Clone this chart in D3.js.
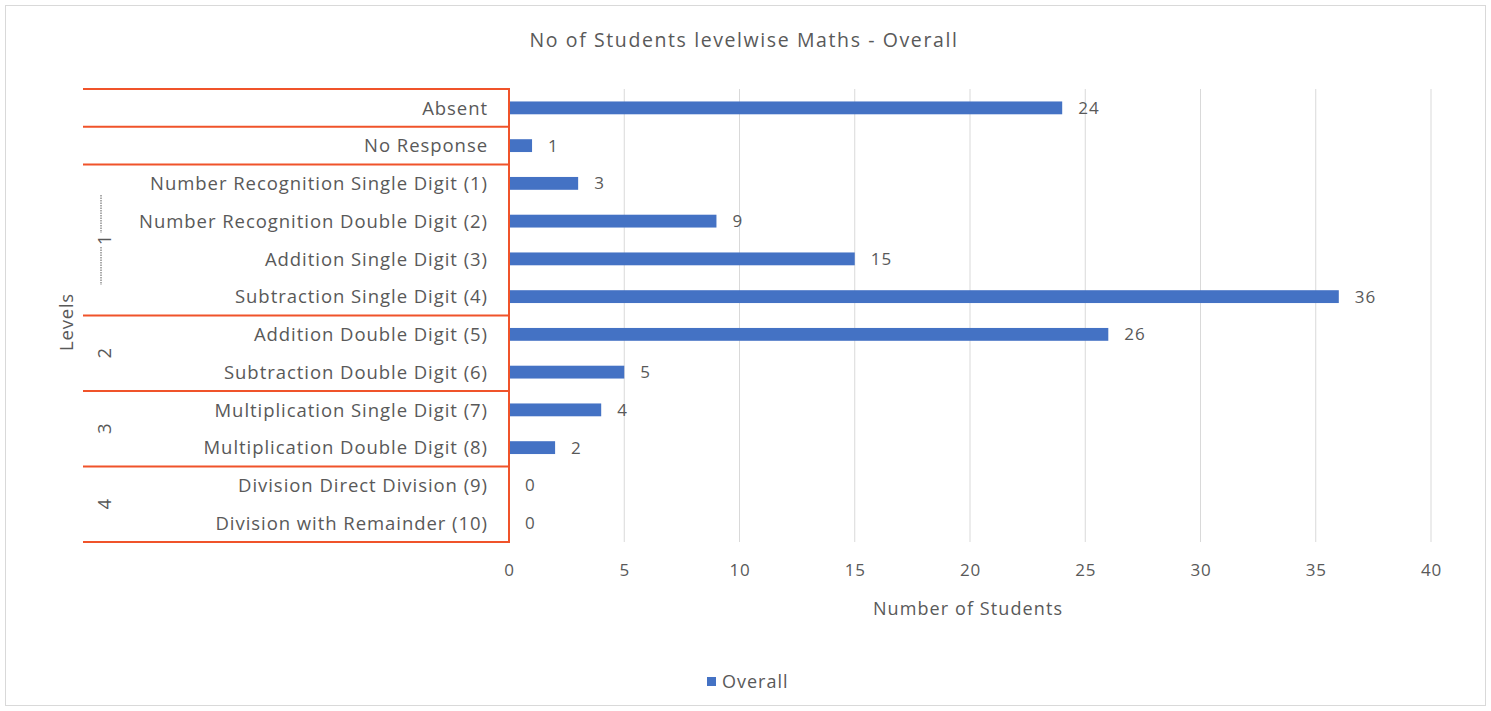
<!DOCTYPE html>
<html><head><meta charset="utf-8">
<script src="https://cdn.jsdelivr.net/npm/d3@7"></script>
<style>body{margin:0;background:#fff}svg{display:block}text{font-family:"Open Sans",sans-serif;fill:#595959}</style>
</head><body><svg id="c" width="1491" height="711"></svg>
<script>
const categories = ["Absent","No Response","Number Recognition Single Digit (1)","Number Recognition Double Digit (2)","Addition Single Digit (3)","Subtraction Single Digit (4)","Addition Double Digit (5)","Subtraction Double Digit (6)","Multiplication Single Digit (7)","Multiplication Double Digit (8)","Division Direct Division (9)","Division with Remainder (10)"];
const values = [24,1,3,9,15,36,26,5,4,2,0,0];
const xTicks = [0,5,10,15,20,25,30,35,40];
const levelGroups = [
  {label:"", start:0, end:0},
  {label:"", start:1, end:1},
  {label:"1", start:2, end:5},
  {label:"2", start:6, end:7},
  {label:"3", start:8, end:9},
  {label:"4", start:10, end:11}
];
const title = "No of Students levelwise Maths - Overall";
const seriesName = "Overall";

const svg = d3.select("#c");
svg.append("rect").attr("x",5.5).attr("y",5.5).attr("width",1480).attr("height",700).attr("fill","#fff").attr("stroke","#d9d9d9");

const x = d3.scaleLinear().domain([0,40]).range([509,1431]);
const y = d3.scaleBand().domain(categories).range([89,542]).paddingInner(0.66).paddingOuter(0.33);
const step = y.step();

// gridlines
svg.append("g").selectAll("line").data(xTicks.filter(d=>d>0)).join("line")
  .attr("x1",d=>x(d)).attr("x2",d=>x(d)).attr("y1",89).attr("y2",542)
  .attr("stroke","#d9d9d9").attr("stroke-width",1);

// x axis labels
const xa = svg.append("g").attr("transform","translate(0,542)")
  .call(d3.axisBottom(x).tickValues(xTicks).tickSize(0).tickPadding(22));
xa.select(".domain").remove();
xa.selectAll("text").attr("font-size",17).attr("letter-spacing",0.8).attr("fill","#595959").style("font-family","Open Sans");

// bars
svg.append("g").selectAll("rect").data(values).join("rect")
  .attr("x",x(0)).attr("y",(d,i)=>y(categories[i])).attr("height",y.bandwidth())
  .attr("width",d=>x(d)-x(0)).attr("fill","#4472c4");

// data labels
svg.append("g").selectAll("text").data(values).join("text")
  .attr("x",d=>x(d)+16).attr("y",(d,i)=>y(categories[i])+y.bandwidth()/2)
  .attr("dy","0.36em").attr("font-size",17).attr("letter-spacing",1).attr("fill","#404040").text(d=>d);

// category labels
svg.append("g").selectAll("text").data(categories).join("text")
  .attr("x",488).attr("y",d=>y(d)+y.bandwidth()/2).attr("dy","0.36em")
  .attr("text-anchor","end").attr("font-size",18.5).attr("letter-spacing",0.95).text(d=>d);

// red group lines
const rowTop = i => 89 + i*step;
const red = "#f0532a";
const bounds = [0];
levelGroups.forEach(g=>bounds.push(g.end+1));
svg.append("g").selectAll("line").data(bounds).join("line")
  .attr("x1",83).attr("x2",509).attr("y1",d=>rowTop(d)).attr("y2",d=>rowTop(d))
  .attr("stroke",red).attr("stroke-width",2);
svg.append("line").attr("x1",509).attr("x2",509).attr("y1",88).attr("y2",543)
  .attr("stroke",red).attr("stroke-width",2);

// level labels
levelGroups.filter(g=>g.label).forEach(g=>{
  const cy = (rowTop(g.start)+rowTop(g.end+1))/2;
  svg.append("text").attr("transform",`translate(104,${cy}) rotate(-90)`)
    .attr("text-anchor","middle").attr("dy","0.36em").attr("font-size",18.5).text(g.label);
  if (g.label==="1"){
    svg.append("line").attr("x1",101).attr("x2",101).attr("y1",cy-45).attr("y2",cy-7)
      .attr("stroke","#595959").attr("stroke-dasharray","1.5,1");
    svg.append("line").attr("x1",101).attr("x2",101).attr("y1",cy+7).attr("y2",cy+45)
      .attr("stroke","#595959").attr("stroke-dasharray","1.5,1");
  }
});

// axis titles
svg.append("text").attr("transform","translate(66,322) rotate(-90)").attr("text-anchor","middle")
  .attr("dy","0.36em").attr("font-size",18.5).attr("letter-spacing",0.8).text("Levels");
svg.append("text").attr("x",968).attr("y",609).attr("text-anchor","middle").attr("dy","0.36em")
  .attr("font-size",18).attr("letter-spacing",1.1).text("Number of Students");
svg.append("text").attr("x",744).attr("y",40).attr("text-anchor","middle").attr("dy","0.36em")
  .attr("font-size",19.5).attr("letter-spacing",1.6).text(title);

// legend
svg.append("rect").attr("x",707).attr("y",677).attr("width",9).attr("height",9).attr("fill","#4472c4");
svg.append("text").attr("x",722).attr("y",682).attr("dy","0.36em").attr("font-size",18).attr("letter-spacing",1).text(seriesName);
</script></body></html>
